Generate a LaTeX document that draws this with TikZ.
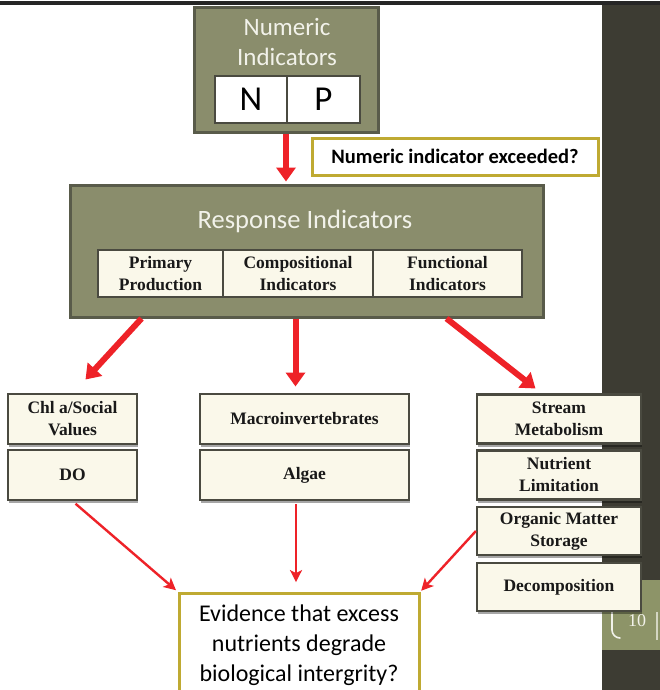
\documentclass[tikz,border=0pt]{standalone}
\usepackage{fontspec}
\setmainfont{Liberation Serif}
\newfontfamily\calib{Carlito}
\usetikzlibrary{arrows.meta,shadows}
\definecolor{panelfill}{HTML}{8A8D6C}
\definecolor{panelline}{HTML}{595B4A}
\definecolor{cream}{HTML}{FAF8EA}
\definecolor{boxline}{HTML}{4A4A40}
\definecolor{goldline}{HTML}{BFAA32}
\definecolor{arrowred}{HTML}{EE2228}
\definecolor{stripdark}{HTML}{3D3C33}
\definecolor{stripolive}{HTML}{8D9468}
\definecolor{lighttext}{HTML}{F2F2EA}
\begin{document}
\begin{tikzpicture}[x=1pt,y=-1pt,
  panel/.style={draw=panelline, fill=panelfill, line width=3pt, inner sep=0pt},
  paneltitle/.style={text=lighttext, align=center, inner sep=0pt},
  letterbox/.style={draw=boxline, fill=white, line width=2pt, inner sep=0pt,
    font=\calib\fontsize{35}{38}\selectfont},
  subbox/.style={draw=boxline, fill=cream, line width=2pt, inner sep=0pt, align=center,
    font=\bfseries\fontsize{17.5}{21.5}\selectfont, text=black!90},
  itembox/.style={draw=boxline, fill=cream, line width=2.2pt, inner sep=0pt, align=center,
    font=\bfseries\fontsize{17.5}{22}\selectfont, text=black!90,
    drop shadow={shadow xshift=1pt, shadow yshift=-3pt, opacity=0.35, fill=black}},
  question/.style={draw=goldline, fill=white, line width=3pt, inner sep=0pt, align=center},
  bigarrow/.style={draw=arrowred, line width=6pt, -{Triangle[width=19pt,length=14pt]}},
  thinarrow/.style={draw=arrowred, line width=2.4pt, -{Stealth[width=12pt,length=12pt,inset=3pt]}}
]
\useasboundingbox (0,0) rectangle (660,690);
\fill[white] (0,0) rectangle (660,690);

% slide edge on the right with the page number, and the top rule
\fill[stripdark] (602,5) rectangle (660,690);
\fill[stripolive] (602,580) rectangle (660,650);
\draw[lighttext, line width=1.6pt, line cap=round] (612,608) -- (612,630) to[out=-90,in=180] (620,638);
\draw[lighttext!70!stripolive, line width=1.4pt] (657,612) -- (657,640);
\node[text=lighttext, font=\fontsize{18}{18}\selectfont, inner sep=0pt] (pg) at (637,621) {10};
\fill[black!85] (0,1.5) rectangle (660,5);

% numeric indicators
\node[panel, minimum width=184, minimum height=124] (num) at (286,70) {};
\node[paneltitle, font=\calib\fontsize{25}{30}\selectfont] (numtitle) at (287,42) {Numeric\\Indicators};
\node[letterbox, minimum width=72, minimum height=47] (nbox) at (251,99.5) {N};
\node[letterbox, minimum width=73, minimum height=47] (pbox) at (323.5,99.5) {P};

\node[question, minimum width=286, minimum height=37,
  font=\calib\bfseries\fontsize{20.5}{22}\selectfont] (exc) at (455,156.5) {Numeric indicator exceeded?};

% response indicators
\node[panel, minimum width=473, minimum height=132] (resp) at (306.5,251) {};
\node[paneltitle, font=\calib\fontsize{26.5}{30}\selectfont] (resptitle) at (305,221) {Response Indicators};
\node[subbox, minimum width=125, minimum height=47] (prim) at (160.5,273.5) {Primary\\Production};
\node[subbox, minimum width=150, minimum height=47] (comp) at (298,273.5) {Compositional\\Indicators};
\node[subbox, minimum width=149, minimum height=47] (func) at (447.5,273.5) {Functional\\Indicators};

% measured responses
\node[itembox, minimum width=129, minimum height=50] (chl) at (72.5,419) {Chl a/Social\\Values};
\node[itembox, minimum width=129, minimum height=50] (do) at (72.5,475) {DO};
\node[itembox, minimum width=209, minimum height=50] (macro) at (304.5,419) {Macroinvertebrates};
\node[itembox, minimum width=209, minimum height=50] (algae) at (304.5,475) {Algae};
\node[itembox, minimum width=164, minimum height=49] (metab) at (559,419) {Stream\\Metabolism};
\node[itembox, minimum width=164, minimum height=49] (nlim) at (559,475) {Nutrient\\Limitation};
\node[itembox, minimum width=164, minimum height=48] (oms) at (559,531) {Organic Matter\\Storage};
\node[itembox, minimum width=164, minimum height=48] (decomp) at (559,587) {Decomposition};

\node[question, minimum width=240, minimum height=104,
  font=\calib\fontsize{24}{30}\selectfont] (evid) at (299,645)
  {Evidence that excess\\nutrients degrade\\biological intergrity?};

% connectors
\draw[bigarrow, shorten >=2pt] (num.south) -- (num.south |- resp.north);
\draw[bigarrow] (resp.south west) ++(73,0) -- ++(-56,61);
\draw[bigarrow] (resp.south west) ++(227,0) -- ++(0,68);
\draw[bigarrow] (resp.south west) ++(378,0) -- ++(89,70);

\draw[thinarrow, shorten <=4pt, shorten >=2pt] (do.south) -- (evid.north west);
\draw[thinarrow, shorten <=3pt, shorten >=6pt] (algae.south -| evid.north) ++(-3,0) -- ++(0,87);
\draw[thinarrow, shorten >=1pt] (oms.west) -- (evid.north east);
\end{tikzpicture}
\end{document}
